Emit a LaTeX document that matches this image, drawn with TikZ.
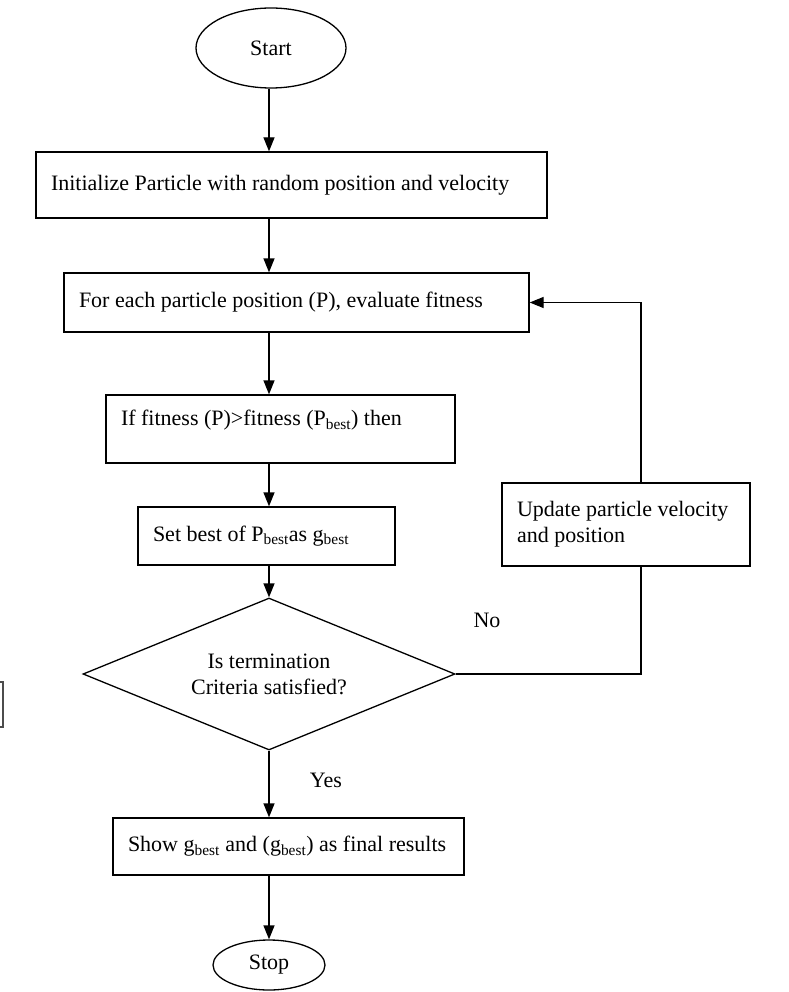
\documentclass[tikz,border=0pt]{standalone}
\usepackage{fontspec}
\setmainfont{Liberation Serif}
\usepackage{tikz}
\usetikzlibrary{arrows.meta,positioning,calc,shapes.geometric}
\tikzset{
  txt/.style={font=\fontsize{22}{26}\selectfont},
  term/.style={draw, ellipse, txt, line width=1.3pt, inner sep=0pt},
  proc/.style={draw, rectangle, txt, fill=white, align=flush left, line width=1.3pt, inner xsep=15pt, inner ysep=0pt},
  cond/.style={draw, diamond, txt, align=flush center, aspect=2.45, line width=1.3pt, inner sep=0pt, minimum width=372pt, minimum height=152pt},
  arr/.style={-{Triangle[length=14pt,width=11pt]}, line width=1.3pt},
}
\begin{document}
\begin{tikzpicture}[x=1pt, y=-1pt]
\useasboundingbox (0,0) rectangle (788,992);
\coordinate (axis) at (269,0);
\coordinate (loop) at (641,0);
\node[term, minimum width=150pt, minimum height=80pt] (start) at (271,48) {Start};
\node[proc, text width=481pt, minimum height=66pt] (init) at (291.5,185) {Initialize Particle with random position and velocity};
\node[proc, text width=435pt, minimum height=59pt] (forb) at (296.5,302.5) {For each particle position (P), evaluate fitness};
\node[proc, text width=319pt, minimum height=68pt, text depth=22pt] (iff) at (280.5,429) {If fitness (P)>fitness (P\textsubscript{best}) then};
\node[proc, text width=227pt, minimum height=58pt] (setb) at (266.5,536) {Set best of P\textsubscript{best}as g\textsubscript{best}};
\node[cond] (dia) at (269,674) {Is termination\\Criteria satisfied?};
\node[proc, text width=321pt, minimum height=57pt] (show) at (288.5,846.5) {Show g\textsubscript{best} and (g\textsubscript{best}) as final results};
\node[term, minimum width=112pt, minimum height=50pt] (stop) at (269,965) {Stop};
\foreach \a/\b in {start/init,init/forb,forb/iff,iff/setb,setb/dia,dia/show,show/stop} \draw[arr] (\a.south -| axis) -- (\b.north -| axis);
% loop back when not done
\draw[arr] (dia.east) -| (loop |- forb.east) -- (forb.east);
\node[proc, text width=218pt, minimum height=83pt] (upd) at (626,524.5) {Update particle velocity\\and position};
\node[txt] (no) at (487,620) {No};
\node[txt] (yes) at (326,780) {Yes};
\draw[line width=1.3pt, black!70] (0,682) -- (3,682) -- (3,727) -- (0,727);
\end{tikzpicture}
\end{document}
